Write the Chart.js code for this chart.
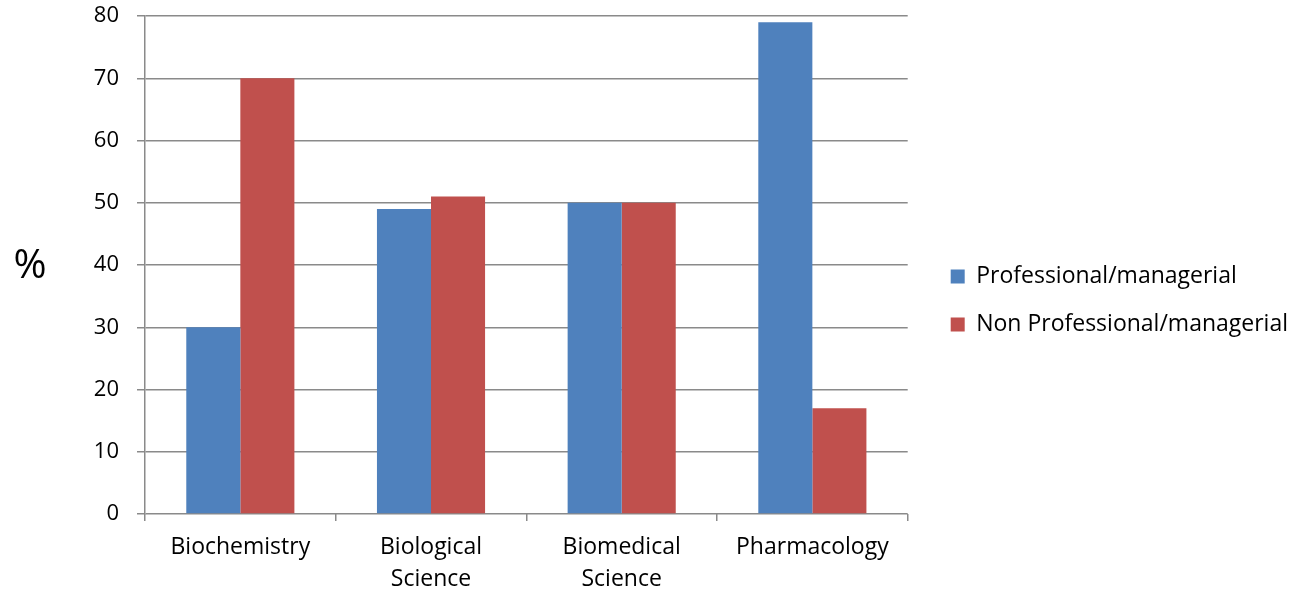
<!DOCTYPE html>
<html>
<head>
<meta charset="utf-8">
<script src="https://cdn.jsdelivr.net/npm/chart.js@4"></script>
<style>
  body { margin: 0; background: #fff; }
  #wrap { width: 1297px; height: 599px; }
</style>
</head>
<body>
<div id="wrap"><canvas id="barChart"></canvas></div>
<script>
// data
var categories = [["Biochemistry"], ["Biological", "Science"], ["Biomedical", "Science"], ["Pharmacology"]];
var professional = [30, 49, 50, 79];
var nonProfessional = [70, 51, 50, 17];
var seriesNames = ["Professional/managerial", "Non Professional/managerial"];

var FONT = "'Open Sans', sans-serif";

// the big "%" left of the value axis
var percentLabel = {
  id: "percentLabel",
  afterLayout: function(chart) {
    // nudge legend a little away from the plot and up a bit
    chart.legend.left += 18;
    chart.legend.right += 18;
    chart.legend.top -= 7;
    chart.legend.bottom -= 7;
  },
  afterDraw: function(chart) {
    var ctx = chart.ctx;
    ctx.save();
    ctx.font = "40px " + FONT;
    ctx.fillStyle = "#000";
    ctx.textAlign = "center";
    ctx.textBaseline = "middle";
    ctx.fillText("%", 30, 267);
    ctx.restore();
  }
};

var bar = document.getElementById("barChart");

var myBarChart = new Chart(bar, {
  type: 'bar',
  data: {
    labels: categories,
    datasets: [
      {
        label: seriesNames[0],
        backgroundColor: "#4F81BD",
        data: professional
      },
      {
        label: seriesNames[1],
        backgroundColor: "#C0504D",
        data: nonProfessional
      }
    ]
  },
  options: {
    responsive: true,
    maintainAspectRatio: false,
    animation: false,
    layout: { padding: { left: 0, top: 16, right: 17, bottom: 0 } },
    datasets: { bar: { categoryPercentage: 0.567, barPercentage: 1 } },
    plugins: {
      legend: {
        position: 'right',
        maxWidth: 420,
        labels: {
          boxWidth: 14,
          boxHeight: 14,
          padding: 25,
          color: "#000",
          font: { family: FONT, size: 23 }
        }
      },
      tooltip: { enabled: false }
    },
    scales: {
      x: {
        afterFit: function(scale) { scale.height = 85; },
        grid: {
          offset: true,
          drawOnChartArea: false,
          drawTicks: true,
          tickLength: 7,
          color: "#8a8a8a",
          lineWidth: 1.5
        },
        border: { display: false },
        ticks: {
          color: "#000",
          padding: 10,
          maxRotation: 0,
          font: { family: FONT, size: 23, lineHeight: 1.4 }
        }
      },
      y: {
        min: 0,
        max: 80,
        afterFit: function(scale) {
          scale.width = 145;
          scale.paddingTop = 0;
          scale.paddingBottom = 0;
        },
        ticks: {
          stepSize: 10,
          color: "#000",
          padding: 18,
          font: { family: FONT, size: 22 }
        },
        grid: {
          color: "#8a8a8a",
          lineWidth: 1.5,
          tickLength: 8
        },
        border: { color: "#8a8a8a", width: 1.5 }
      }
    }
  },
  plugins: [percentLabel]
});
</script>
</body>
</html>
